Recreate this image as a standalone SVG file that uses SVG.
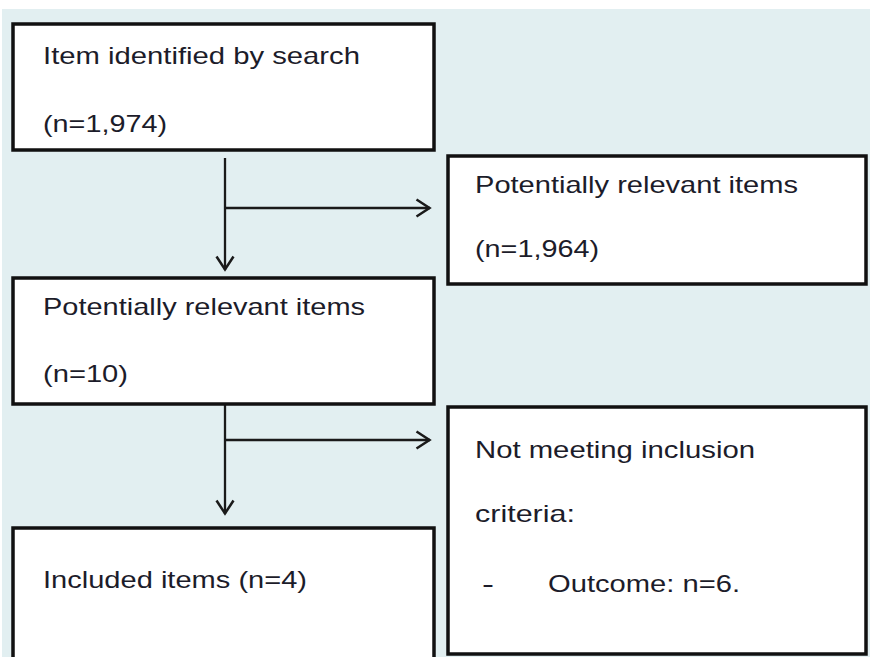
<svg xmlns="http://www.w3.org/2000/svg" width="870" height="657" viewBox="0 0 870 657">
<defs>
<style>
.box{fill:#ffffff;stroke:#111111;stroke-width:3.5}
.t{font-family:"Liberation Sans",Arial,sans-serif;font-size:24px;fill:#1c1c2a}
.c{fill:none;stroke:#1a1a1a;stroke-width:2.3}
</style>
<marker id="ah" viewBox="0 0 17 20" refX="15.5" refY="10" markerWidth="17" markerHeight="20" markerUnits="userSpaceOnUse" orient="auto">
<path d="M2,1.5 L15,10 L2,18.5" fill="none" stroke="#1a1a1a" stroke-width="2.5"/>
</marker>
</defs>
<rect x="0" y="0" width="870" height="657" fill="#ffffff"/>
<rect x="2" y="9" width="868" height="648" fill="#e2eff1"/>
<g id="connectors">
<path class="c" d="M225,158 V270" marker-end="url(#ah)"/>
<path class="c" d="M225,208 H430" marker-end="url(#ah)"/>
<path class="c" d="M225,405 V514" marker-end="url(#ah)"/>
<path class="c" d="M225,440 H430" marker-end="url(#ah)"/>
</g>
<g id="n1">
<rect class="box" x="13" y="24" width="421" height="126"/>
<text class="t" x="43" y="64" textLength="317" lengthAdjust="spacingAndGlyphs">Item identified by search</text>
<text class="t" x="43" y="132" textLength="124" lengthAdjust="spacingAndGlyphs">(n=1,974)</text>
</g>
<g id="n2">
<rect class="box" x="448" y="156" width="418" height="128"/>
<text class="t" x="475" y="193" textLength="323" lengthAdjust="spacingAndGlyphs">Potentially relevant items</text>
<text class="t" x="475" y="257" textLength="124" lengthAdjust="spacingAndGlyphs">(n=1,964)</text>
</g>
<g id="n3">
<rect class="box" x="13" y="278" width="421" height="126"/>
<text class="t" x="43" y="315" textLength="322" lengthAdjust="spacingAndGlyphs">Potentially relevant items</text>
<text class="t" x="43" y="382" textLength="85" lengthAdjust="spacingAndGlyphs">(n=10)</text>
</g>
<g id="n4">
<rect class="box" x="13" y="528" width="421" height="140"/>
<text class="t" x="43" y="588" textLength="264" lengthAdjust="spacingAndGlyphs">Included items (n=4)</text>
</g>
<g id="n5">
<rect class="box" x="448" y="407" width="418" height="247"/>
<text class="t" x="475" y="458" textLength="280" lengthAdjust="spacingAndGlyphs">Not meeting inclusion</text>
<text class="t" x="475" y="522" textLength="100" lengthAdjust="spacingAndGlyphs">criteria:</text>
<text class="t" x="482" y="592" textLength="12" lengthAdjust="spacingAndGlyphs">-</text>
<text class="t" x="548" y="592" textLength="192" lengthAdjust="spacingAndGlyphs">Outcome: n=6.</text>
</g>
</svg>
